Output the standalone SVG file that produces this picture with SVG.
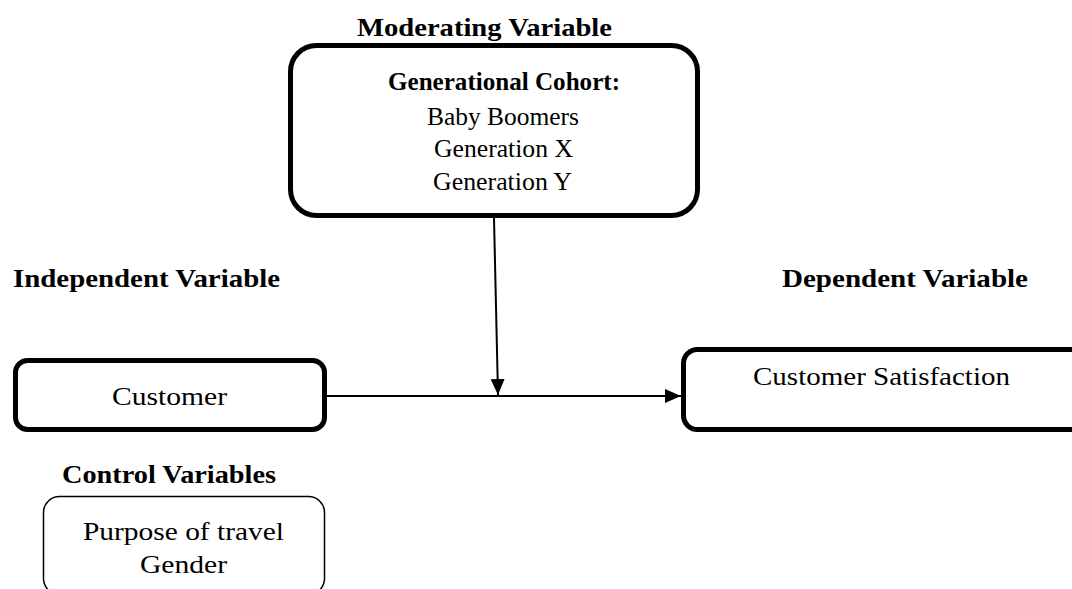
<svg xmlns="http://www.w3.org/2000/svg" width="1072" height="589" viewBox="0 0 1072 589">
<style>
text{font-family:"Liberation Serif","Times New Roman",serif;fill:#000}
.h{font-weight:bold;font-size:25.5px}
.t{font-size:25px}
.b{font-weight:bold;font-size:24.5px}
.thick{fill:#fff;stroke:#000;stroke-width:5}
.thin{fill:#fff;stroke:#000;stroke-width:1.5}
.conn{stroke:#000;stroke-width:2;fill:none}
</style>
<defs>
<marker id="arr" markerUnits="userSpaceOnUse" markerWidth="18" markerHeight="16" refX="16" refY="7" orient="auto">
<path d="M0,0 L16,7 L0,14 Z" fill="#000"/>
</marker>
</defs>
<rect width="1072" height="589" fill="#fff"/>
<g id="labels">
<text class="h" x="357" y="36" textLength="255" lengthAdjust="spacingAndGlyphs">Moderating Variable</text>
<text class="h" x="13" y="287" textLength="267" lengthAdjust="spacingAndGlyphs">Independent Variable</text>
<text class="h" x="782" y="287" textLength="246" lengthAdjust="spacingAndGlyphs">Dependent Variable</text>
<text class="h" x="62" y="483" textLength="214" lengthAdjust="spacingAndGlyphs">Control Variables</text>
</g>
<g id="moderator">
<rect class="thick" x="290.5" y="45.5" width="407" height="170" rx="26"/>
<text class="b" x="388" y="90" textLength="232" lengthAdjust="spacingAndGlyphs">Generational Cohort:</text>
<text class="t" x="427" y="125" textLength="152" lengthAdjust="spacingAndGlyphs">Baby Boomers</text>
<text class="t" x="434" y="157" textLength="139" lengthAdjust="spacingAndGlyphs">Generation X</text>
<text class="t" x="433" y="190" textLength="139" lengthAdjust="spacingAndGlyphs">Generation Y</text>
</g>
<g id="independent">
<rect class="thick" x="15.5" y="360.5" width="309" height="69" rx="12"/>
<text class="t" x="112" y="405" textLength="115" lengthAdjust="spacingAndGlyphs">Customer</text>
</g>
<g id="dependent">
<rect class="thick" x="683.5" y="349.5" width="420" height="80" rx="14"/>
<text class="t" x="753" y="385" textLength="257" lengthAdjust="spacingAndGlyphs">Customer Satisfaction</text>
</g>
<g id="control">
<rect class="thin" x="43.5" y="496.5" width="281" height="98" rx="16"/>
<text class="t" x="83" y="540" textLength="201" lengthAdjust="spacingAndGlyphs">Purpose of travel</text>
<text class="t" x="140" y="573" textLength="87" lengthAdjust="spacingAndGlyphs">Gender</text>
</g>
<g id="connectors">
<line class="conn" x1="494" y1="218" x2="498" y2="395" marker-end="url(#arr)"/>
<line class="conn" x1="327" y1="396" x2="681" y2="396" marker-end="url(#arr)"/>
</g>
</svg>
